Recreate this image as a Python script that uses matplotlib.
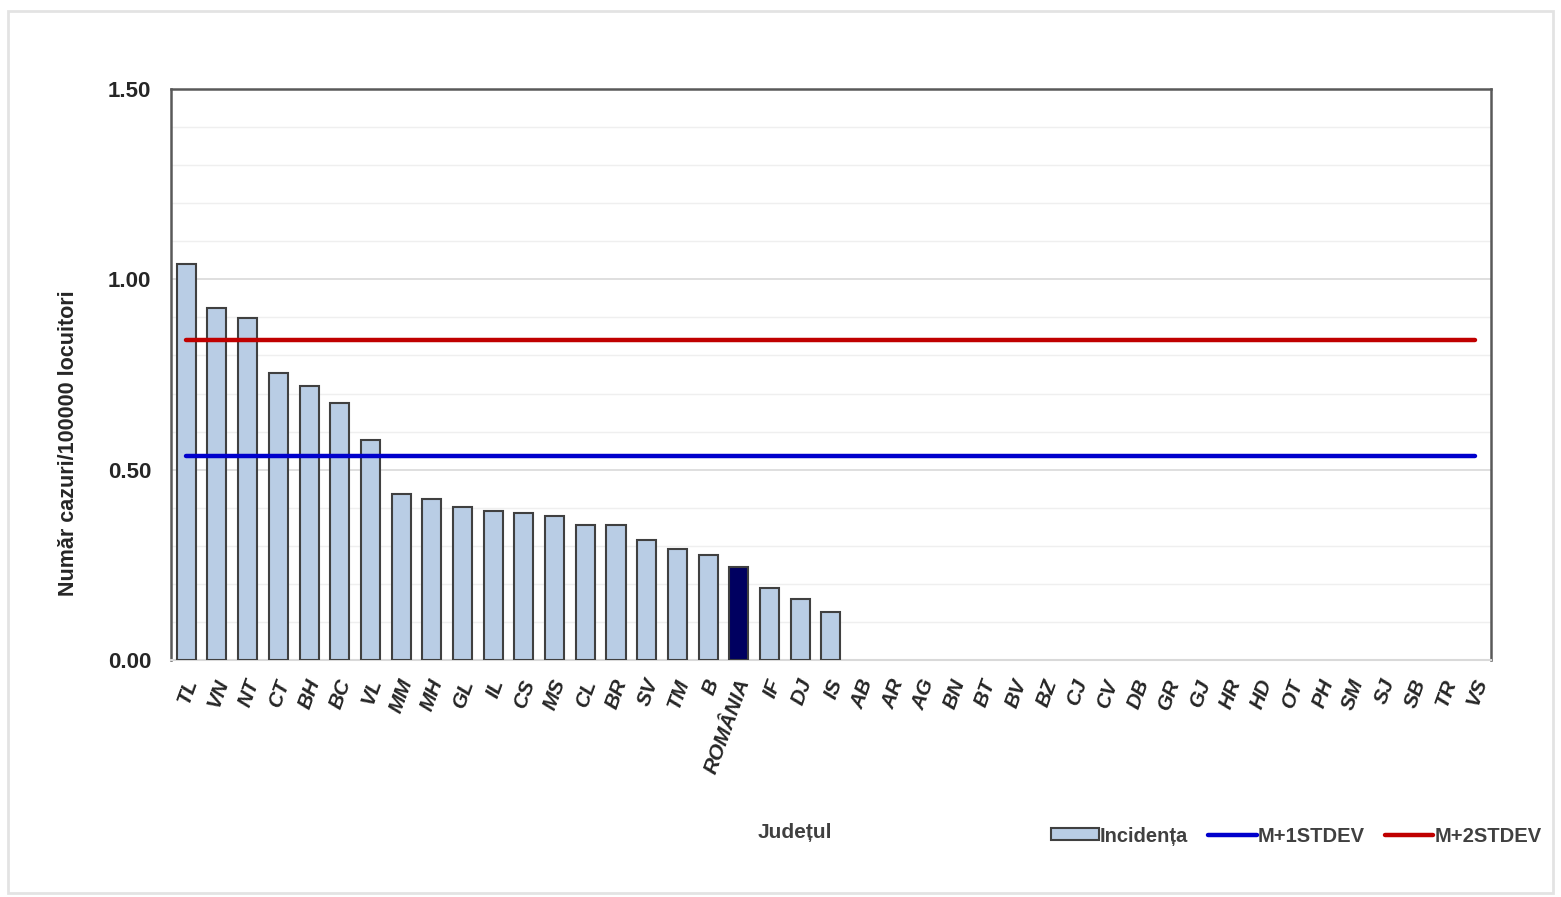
import matplotlib.pyplot as plt
from matplotlib.patches import Rectangle
from matplotlib.transforms import ScaledTranslation
import numpy as np

plt.rcParams['font.family'] = ['Liberation Sans', 'DejaVu Sans']

judete = ["TL", "VN", "NT", "CT", "BH", "BC", "VL", "MM", "MH", "GL", "IL", "CS",
          "MS", "CL", "BR", "SV", "TM", "B", "ROMÂNIA", "IF", "DJ", "IS", "AB", "AR",
          "AG", "BN", "BT", "BV", "BZ", "CJ", "CV", "DB", "GR", "GJ", "HR", "HD",
          "OT", "PH", "SM", "SJ", "SB", "TR", "VS"]
incidenta = [1.04, 0.925, 0.898, 0.754, 0.72, 0.675, 0.578, 0.436, 0.423, 0.402,
             0.391, 0.386, 0.378, 0.355, 0.355, 0.315, 0.292, 0.276, 0.244, 0.189,
             0.160, 0.126] + [0.0] * 21
m_1stdev = 0.536
m_2stdev = 0.84

BAR = "#B9CDE5"
TXT = "#262626"

fig = plt.figure(figsize=(15.61, 8.97), dpi=100)
fig.patches.append(Rectangle((0.005, 0.005), 0.99, 0.983, transform=fig.transFigure,
                             fill=False, edgecolor="#e3e3e3", linewidth=2))
ax = fig.add_axes([0.1095, 0.2642, 0.8455, 0.6366])

x = np.arange(len(judete))
colors = [BAR] * len(judete)
colors[judete.index("ROMÂNIA")] = "#000060"
edge_w = [1.5 if v > 0 else 0 for v in incidenta]
ax.bar(x, incidenta, width=0.62, color=colors, edgecolor="#404040", linewidth=edge_w,
       zorder=3)
ax.plot(x, [m_1stdev] * len(x), color="#0000CC", linewidth=3.2,
        solid_capstyle="round", zorder=4)
ax.plot(x, [m_2stdev] * len(x), color="#C00000", linewidth=3.2,
        solid_capstyle="round", zorder=4)

ax.set_xlim(-0.5, len(judete) - 0.5)
ax.set_ylim(0, 1.5)
ax.set_yticks([0, 0.5, 1.0, 1.5])
ax.set_yticklabels(["0.00", "0.50", "1.00", "1.50"], fontsize=16,
                   fontweight="bold", color=TXT)
ax.set_yticks(np.arange(0, 1.5, 0.1), minor=True)
ax.grid(axis="y", which="major", color="#d9d9d9", linewidth=1.2, zorder=0)
ax.grid(axis="y", which="minor", color="#efefef", linewidth=1.0, zorder=0)
ax.tick_params(axis="y", which="both", length=0, pad=14)
ax.tick_params(axis="x", length=0, pad=14)

ax.set_xticks(x)
ax.set_xticklabels(judete, rotation=70, ha="right", va="center",
                   rotation_mode="anchor", fontsize=15,
                   fontweight="bold", style="italic", color=TXT)
# nudge labels right so they sit under the bars like the original
shift = ScaledTranslation(6 / 100, 0, fig.dpi_scale_trans)
for lbl in ax.get_xticklabels():
    lbl.set_transform(lbl.get_transform() + shift)

for s in ["left", "top", "right"]:
    ax.spines[s].set_color("#595959")
    ax.spines[s].set_linewidth(1.8)
ax.spines["bottom"].set_color("#d9d9d9")
ax.spines["bottom"].set_linewidth(1.5)

ax.set_ylabel("Număr cazuri/100000 locuitori", fontsize=15.5, fontweight="bold",
              color=TXT)
ax.yaxis.set_label_coords(-0.07, 0.38)
fig.text(0.509, 0.066, "Județul", fontsize=15, fontweight="bold", color="#404040",
         ha="center")

handles = [Rectangle((0, 0), 1, 1, facecolor=BAR, edgecolor="#404040", linewidth=1.5),
           plt.Line2D([], [], color="#0000CC", linewidth=3.2, solid_capstyle="round"),
           plt.Line2D([], [], color="#C00000", linewidth=3.2, solid_capstyle="round")]
fig.legend(handles, ["Incidența", "M+1STDEV", "M+2STDEV"], loc="center right",
           bbox_to_anchor=(0.999, 0.068), ncol=3, frameon=False,
           prop={"size": 14.5, "weight": "bold"}, labelcolor="#404040",
           handlelength=2.4, handletextpad=0.05, columnspacing=1.0,
           handleheight=0.55)

fig.savefig("out.png", dpi=100)
